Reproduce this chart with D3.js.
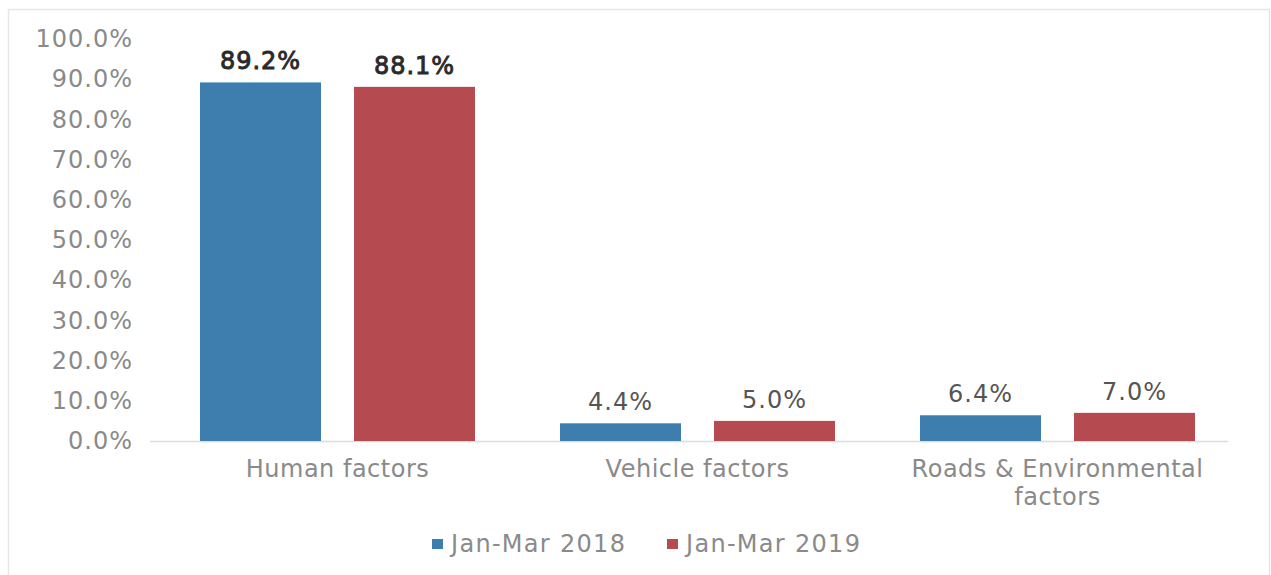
<!DOCTYPE html>
<html><head><meta charset="utf-8">
<script src="https://cdn.jsdelivr.net/npm/d3@7"></script>
<style>
html,body{margin:0;padding:0;background:#fff;}
text{font-family:"DejaVu Sans",Verdana,sans-serif;}
</style></head>
<body><svg id="chart" width="1271" height="575"></svg>
<script>
const categories = ["Human factors", "Vehicle factors", "Roads & Environmental factors"];
const seriesNames = ["Jan-Mar 2018", "Jan-Mar 2019"];
const values2018 = [0.892, 0.044, 0.064];
const values2019 = [0.881, 0.050, 0.070];
const yTicks = [0, 0.1, 0.2, 0.3, 0.4, 0.5, 0.6, 0.7, 0.8, 0.9, 1.0];
const colors = ["#3d7eae", "#b54a51"];

const seriesValues = [values2018, values2019];
const svg = d3.select("#chart");

// frame
svg.append("rect").attr("x", 8.5).attr("y", 9.5).attr("width", 1261).attr("height", 570)
  .attr("fill", "none").attr("stroke", "#e6e6e6").attr("stroke-width", 1.5);

const x0 = d3.scaleBand().domain(categories).range([157.5, 1237.5])
  .paddingInner(85/360).paddingOuter(85/720);
const x1 = d3.scaleBand().domain(seriesNames).range([0, x0.bandwidth()])
  .paddingInner(33/154).paddingOuter(0);
const y = d3.scaleLinear().domain([0, 1]).range([441, 39]);

// y axis
const yAxis = svg.append("g").attr("transform", "translate(150,0)")
  .call(d3.axisLeft(y).tickValues(yTicks).tickFormat(d3.format(".1%")).tickSize(0).tickPadding(17));
yAxis.select(".domain").remove();
yAxis.selectAll("text").attr("font-size", 24).attr("fill", "#8a8a8a").attr("letter-spacing", 1)
  .style("font-family", '"DejaVu Sans",Verdana,sans-serif');

// baseline
svg.append("line").attr("x1", 150).attr("x2", 1228).attr("y1", y(0) + 0.5).attr("y2", y(0) + 0.5)
  .attr("stroke", "#dcdcdc").attr("stroke-width", 1.5);

// bars
const groups = svg.selectAll("g.cat").data(categories).join("g").attr("class", "cat")
  .attr("transform", d => `translate(${x0(d)},0)`);
groups.each(function(cat, ci) {
  const g = d3.select(this);
  seriesNames.forEach((s, si) => {
    const v = seriesValues[si][ci];
    g.append("rect").attr("x", x1(s)).attr("y", y(v)).attr("width", x1.bandwidth())
      .attr("height", y(0) - y(v)).attr("fill", colors[si]);
    const t = g.append("text").attr("x", x1(s) + x1.bandwidth() / 2).attr("y", y(v) - 13)
      .attr("text-anchor", "middle").attr("font-size", 24).attr("letter-spacing", 1)
      .attr("fill", ci === 0 ? "#2a2a2a" : "#555")
      .text(d3.format(".1%")(v));
    if (ci === 0) t.attr("stroke", "#2a2a2a").attr("stroke-width", 0.9);
  });
});

// x axis labels
const xAxis = svg.append("g").attr("transform", `translate(0,${y(0)})`)
  .call(d3.axisBottom(x0).tickSize(0).tickPadding(19));
xAxis.select(".domain").remove();
xAxis.selectAll("text").attr("font-size", 24).attr("fill", "#8a8a8a").attr("letter-spacing", 0.5)
  .style("font-family", '"DejaVu Sans",Verdana,sans-serif')
  .each(function(d) {
    const t = d3.select(this);
    const words = d.split(" ");
    const maxW = 320;
    t.text(null);
    let line = [];
    let tspan = t.append("tspan").attr("x", 0).attr("dy", "0.71em");
    for (const w of words) {
      line.push(w);
      tspan.text(line.join(" "));
      if (tspan.node().getComputedTextLength() > maxW && line.length > 1) {
        line.pop(); tspan.text(line.join(" "));
        line = [w];
        tspan = t.append("tspan").attr("x", 0).attr("dy", "1.15em").text(w);
      }
    }
  });

// legend
const legendX = [432, 667];
const legend = svg.selectAll("g.leg").data(seriesNames).join("g").attr("class", "leg")
  .attr("transform", (d, i) => `translate(${legendX[i]},539)`);
legend.append("rect").attr("width", 11).attr("height", 10).attr("fill", (d, i) => colors[i]);
legend.append("text").attr("x", 19).attr("y", 5).attr("dy", "0.35em")
  .attr("font-size", 24).attr("fill", "#8a8a8a").attr("letter-spacing", 1.3).text(d => d);
</script>
</body></html>
